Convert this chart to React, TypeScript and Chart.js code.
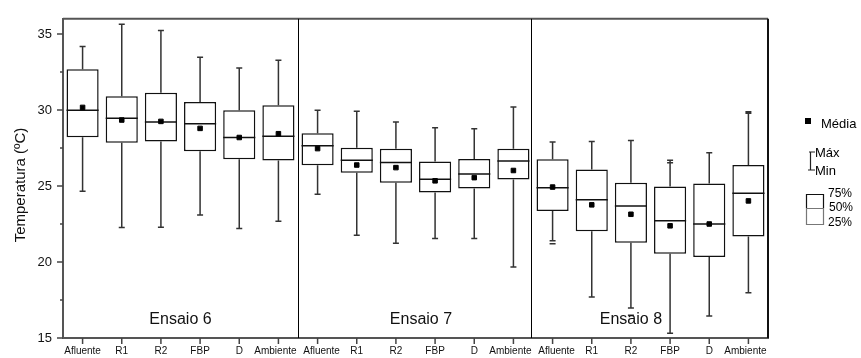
import React, { useEffect, useRef } from "react";
import { Chart, registerables } from "chart.js";

Chart.register(...registerables);

const categories = [
  "Afluente", "R1", "R2", "FBP", "D", "Ambiente",
  "Afluente", "R1", "R2", "FBP", "D", "Ambiente",
  "Afluente", "R1", "R2", "FBP", "D", "Ambiente",
];
const groupLabels = ["Ensaio 6", "Ensaio 7", "Ensaio 8"];
const maxValues = [34.17, 35.64, 35.23, 33.47, 32.77, 33.28, 29.98, 29.91, 29.21, 28.83, 28.76, 30.19, 27.89, 27.93, 28.0, 26.7, 27.19, 29.89];
const q3Values = [32.68, 30.91, 31.13, 30.53, 29.98, 30.32, 28.47, 27.51, 27.45, 26.62, 26.78, 27.45, 26.76, 26.08, 25.21, 24.96, 25.17, 26.38];
const medianValues = [29.98, 29.46, 29.21, 29.1, 28.19, 28.27, 27.64, 26.7, 26.55, 25.44, 25.79, 26.64, 24.89, 24.1, 23.68, 22.72, 22.5, 24.53];
const meanValues = [30.17, 29.34, 29.25, 28.79, 28.19, 28.44, 27.46, 26.38, 26.21, 25.34, 25.55, 26.02, 24.93, 23.76, 23.14, 22.38, 22.5, 24.02];
const q1Values = [28.21, 27.85, 27.93, 27.29, 26.76, 26.68, 26.36, 25.87, 25.21, 24.57, 24.83, 25.42, 23.36, 22.02, 21.27, 20.55, 20.33, 21.67];
const minValues = [24.66, 22.27, 22.29, 23.1, 22.21, 22.68, 24.46, 21.76, 21.23, 21.55, 21.55, 19.67, 21.4, 17.69, 16.97, 15.31, 16.44, 17.97];
const extraMarks: (number | null)[] = [null, null, null, null, null, null, null, null, null, null, null, null, 21.2, null, 16.5, 26.53, null, 29.78];
const yTickValues = [15, 17.5, 20, 22.5, 25, 27.5, 30, 32.5, 35];
const yMin = 15;
const yMax = 36;

const FONT = "'Liberation Sans', Arial, sans-serif";

const boxPlugin = {
  id: "boxPlugin",
  beforeDatasetsDraw(chart: any) {
    const { ctx, scales } = chart;
    const x = scales.x, y = scales.y;
    ctx.save();
    ctx.strokeStyle = "#333";
    ctx.lineWidth = 1.5;
    for (let i = 0; i < categories.length; i++) {
      const px = x.getPixelForValue(i);
      const yMaxP = y.getPixelForValue(maxValues[i]);
      const yQ3 = y.getPixelForValue(q3Values[i]);
      const yQ1 = y.getPixelForValue(q1Values[i]);
      const yMinP = y.getPixelForValue(minValues[i]);
      ctx.beginPath();
      ctx.moveTo(px, yMaxP);
      ctx.lineTo(px, yQ3);
      ctx.moveTo(px, yQ1);
      ctx.lineTo(px, yMinP);
      ctx.moveTo(px - 3, yMaxP);
      ctx.lineTo(px + 3, yMaxP);
      ctx.moveTo(px - 3, yMinP);
      ctx.lineTo(px + 3, yMinP);
      const e = extraMarks[i];
      if (e !== null) {
        const ye = y.getPixelForValue(e);
        ctx.moveTo(px - 3, ye);
        ctx.lineTo(px + 3, ye);
      }
      ctx.stroke();
    }
    ctx.restore();
  },
  afterDatasetDraw(chart: any, args: any) {
    if (args.index !== 0) return;
    const { ctx, scales } = chart;
    const y = scales.y;
    const meta = chart.getDatasetMeta(0);
    ctx.save();
    ctx.strokeStyle = "#111";
    ctx.lineWidth = 1.5;
    meta.data.forEach((bar: any, i: number) => {
      const ym = y.getPixelForValue(medianValues[i]);
      ctx.beginPath();
      ctx.moveTo(bar.x - bar.width / 2, ym);
      ctx.lineTo(bar.x + bar.width / 2, ym);
      ctx.stroke();
    });
    ctx.restore();
  },
  afterDraw(chart: any) {
    const { ctx, scales, chartArea } = chart;
    const x = scales.x, y = scales.y;
    const { left, right, top, bottom } = chartArea;
    ctx.save();
    ctx.strokeStyle = "#555";
    ctx.lineWidth = 2;
    ctx.beginPath();
    ctx.moveTo(left, top);
    ctx.lineTo(right, top);
    ctx.stroke();
    ctx.strokeStyle = "#111";
    ctx.beginPath();
    ctx.moveTo(right, top);
    ctx.lineTo(right, bottom);
    ctx.stroke();
    ctx.lineWidth = 1;
    ctx.strokeStyle = "#000";
    [5.5, 11.45].forEach((v) => {
      const px = Math.round(x.getPixelForValue(v)) + 0.5;
      ctx.beginPath();
      ctx.moveTo(px, top);
      ctx.lineTo(px, bottom);
      ctx.stroke();
    });
    ctx.strokeStyle = "#444";
    ctx.lineWidth = 1.5;
    y.ticks.forEach((t: any) => {
      const py = y.getPixelForValue(t.value);
      const len = t.value % 5 === 0 ? 6 : 3;
      ctx.beginPath();
      ctx.moveTo(left - len, py);
      ctx.lineTo(left, py);
      ctx.stroke();
    });
    ctx.fillStyle = "#111";
    ctx.font = `10px ${FONT}`;
    ctx.textAlign = "center";
    ctx.textBaseline = "middle";
    for (let i = 0; i < categories.length; i++) {
      const px = x.getPixelForValue(i);
      ctx.beginPath();
      ctx.moveTo(px, bottom);
      ctx.lineTo(px, bottom + 6);
      ctx.stroke();
      const name = categories[i];
      let dx = 0;
      if (name === "Ambiente") dx = -3;
      if (name === "Afluente" && i > 0) dx = 4;
      ctx.fillText(name, px + dx, bottom + 13);
    }
    ctx.font = `16px ${FONT}`;
    const groupPos = [2.5, 8.64, 14.0];
    groupLabels.forEach((g, k) => {
      ctx.fillText(g, x.getPixelForValue(groupPos[k]), bottom - 18);
    });
    ctx.save();
    ctx.translate(21, 185);
    ctx.rotate(-Math.PI / 2);
    ctx.font = `15px ${FONT}`;
    ctx.fillText("Temperatura (ºC)", 0, 0);
    ctx.restore();
    ctx.textAlign = "left";
    ctx.font = `13px ${FONT}`;
    ctx.fillStyle = "#000";
    ctx.fillRect(805, 118, 6, 6);
    ctx.fillText("Média", 821, 124);
    ctx.strokeStyle = "#222";
    ctx.lineWidth = 1.2;
    ctx.beginPath();
    ctx.moveTo(810.5, 152);
    ctx.lineTo(810.5, 170);
    ctx.moveTo(809, 152);
    ctx.lineTo(815, 152);
    ctx.moveTo(808, 170);
    ctx.lineTo(815, 170);
    ctx.stroke();
    ctx.fillText("Máx", 815, 153);
    ctx.fillText("Min", 815, 171);
    ctx.font = `12px ${FONT}`;
    ctx.strokeStyle = "#111";
    ctx.beginPath();
    ctx.moveTo(806.5, 208);
    ctx.lineTo(806.5, 194.5);
    ctx.lineTo(823.5, 194.5);
    ctx.lineTo(823.5, 208);
    ctx.stroke();
    ctx.strokeStyle = "#777";
    ctx.beginPath();
    ctx.moveTo(806.5, 208);
    ctx.lineTo(806.5, 224.5);
    ctx.lineTo(823.5, 224.5);
    ctx.lineTo(823.5, 208);
    ctx.moveTo(806.5, 208.5);
    ctx.lineTo(823.5, 208.5);
    ctx.stroke();
    ctx.fillText("75%", 828, 194);
    ctx.fillText("50%", 829, 208);
    ctx.fillText("25%", 828, 223);
    ctx.restore();
  },
};

export default function App() {
  const ref = useRef<HTMLCanvasElement>(null);
  useEffect(() => {
    if (!ref.current) return;
    const chart = new Chart(ref.current, {
      type: "bar",
      data: {
        labels: categories,
        datasets: [
          {
            type: "bar",
            data: q1Values.map((q, i) => [q, q3Values[i]]),
            backgroundColor: "#fff",
            borderColor: "#111",
            borderWidth: 1.5,
            borderSkipped: false,
            barPercentage: 0.82,
            categoryPercentage: 1,
            order: 2,
          } as any,
          {
            type: "line",
            data: meanValues,
            showLine: false,
            pointStyle: "rect",
            pointRadius: 3.2,
            pointBackgroundColor: "#000",
            pointBorderColor: "#000",
            pointBorderWidth: 1,
            order: 1,
          } as any,
        ],
      },
      options: {
        responsive: false,
        animation: false,
        layout: { padding: { top: 10, right: 93, left: 0, bottom: 0 } },
        plugins: { legend: { display: false }, tooltip: { enabled: false } },
        scales: {
          x: {
            offset: true,
            grid: { display: false, drawTicks: false },
            border: { display: true, color: "#555", width: 2 },
            ticks: { display: false, autoSkip: false },
            afterFit: (s: any) => { s.height = 20; },
          },
          y: {
            min: yMin,
            max: yMax,
            grid: { display: false, drawTicks: false },
            border: { display: true, color: "#555", width: 2 },
            afterBuildTicks: (s: any) => {
              s.ticks = yTickValues.map((v) => ({ value: v }));
            },
            ticks: {
              padding: 11,
              color: "#111",
              font: { family: FONT, size: 13 },
              callback: (v: any) => (Number(v) % 5 === 0 ? String(v) : ""),
            },
            afterFit: (s: any) => { s.width = 63; },
          },
        },
      },
      plugins: [boxPlugin],
    });
    return () => chart.destroy();
  }, []);
  return (
    <div style={{ position: "absolute", left: 0, top: 0, width: 861, height: 358, background: "#fff" }}>
      <canvas ref={ref} width={861} height={358} />
    </div>
  );
}
